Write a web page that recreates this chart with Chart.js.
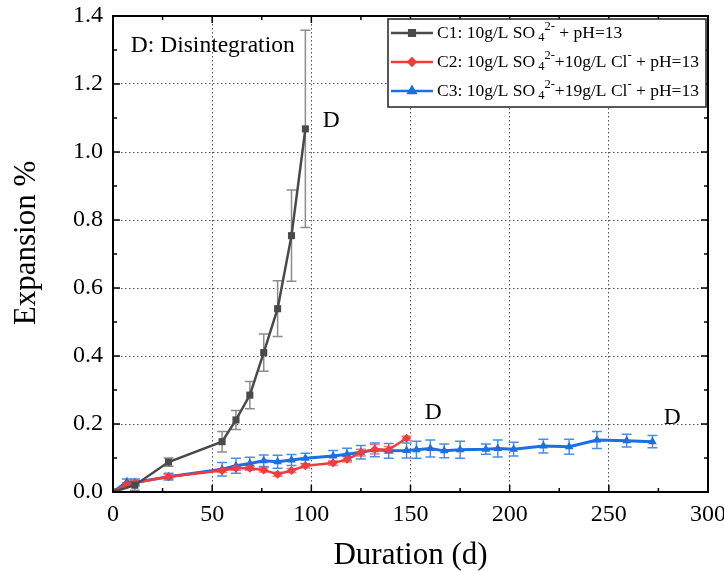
<!DOCTYPE html>
<html>
<head>
<meta charset="utf-8">
<title>Expansion</title>
<script src="https://cdn.jsdelivr.net/npm/chart.js@4"></script>
<style>
    body { margin: 0; background: #fff; }
</style>
</head>
<body>
<canvas id="myChart" width="724" height="571"></canvas>
<script>
// data
const c1Days = [0, 11, 28, 55, 62, 69, 76, 83, 90, 97]
const c1Exp = [0, 0.02, 0.088, 0.148, 0.212, 0.285, 0.41, 0.539, 0.754, 1.068]
const c1Err = [0, 0.015, 0.012, 0.03, 0.028, 0.04, 0.055, 0.082, 0.134, 0.29]

const c2Days = [0, 7, 11, 28, 55, 62, 69, 76, 83, 90, 97, 111, 118, 125, 132, 139, 148]
const c2Exp = [0, 0.022, 0.027, 0.045, 0.063, 0.07, 0.07, 0.065, 0.052, 0.063, 0.077, 0.085, 0.096, 0.116, 0.126, 0.124, 0.158]
const c2Err = [0, 0.005, 0.006, 0.006, 0.006, 0.006, 0.006, 0.006, 0.006, 0.006, 0.006, 0.006, 0.008, 0.01, 0.014, 0.01, 0.006]

const c3Days = [0, 7, 11, 28, 55, 62, 69, 76, 83, 90, 97, 111, 118, 125, 132, 139, 148, 153, 160, 167, 175, 188, 194, 202, 217, 230, 244, 259, 272]
const c3Exp = [0, 0.03, 0.028, 0.045, 0.067, 0.077, 0.084, 0.092, 0.089, 0.094, 0.099, 0.106, 0.111, 0.117, 0.124, 0.121, 0.122, 0.124, 0.128, 0.121, 0.124, 0.126, 0.128, 0.126, 0.135, 0.133, 0.153, 0.151, 0.148]
const c3Err = [0, 0.008, 0.01, 0.01, 0.02, 0.022, 0.018, 0.017, 0.019, 0.016, 0.015, 0.016, 0.018, 0.02, 0.02, 0.022, 0.022, 0.025, 0.025, 0.02, 0.025, 0.015, 0.025, 0.02, 0.02, 0.022, 0.025, 0.019, 0.018]

const seriesNames = [
    'C1: 10g/L SO_{4}^{2-} + pH=13',
    'C2: 10g/L SO_{4}^{2-}+10g/L Cl^{-} + pH=13',
    'C3: 10g/L SO_{4}^{2-}+19g/L Cl^{-} + pH=13'
]

const yTitle = 'Expansion %'
const xTitle = 'Duration (d)'

// text notes: [text, day, expansion]
const notes = [
    ['D: Disintegration', 9, 1.312],
    ['D', 110, 1.091],
    ['D', 161.5, 0.232],
    ['D', 282, 0.218]
]

const serif = "'Liberation Serif', 'Times New Roman', serif"

function pontos(xs, ys) {
    return xs.map((x, i) => ({ x: x, y: ys[i] }))
}

// error bars, drawn through the scales
const errorBars = {
    id: 'errorBars',
    beforeDatasetsDraw(chart) {
        const ctx = chart.ctx
        const xs = chart.scales.x
        const ys = chart.scales.y
        chart.data.datasets.forEach(ds => {
            ctx.save()
            ctx.strokeStyle = ds.errColor
            ctx.lineWidth = 1.5
            ds.data.forEach((p, i) => {
                const e = ds.errors[i]
                if (!e) return
                const px = xs.getPixelForValue(p.x)
                const top = ys.getPixelForValue(p.y + e)
                const bot = ys.getPixelForValue(p.y - e)
                ctx.beginPath()
                ctx.moveTo(px, top); ctx.lineTo(px, bot)
                ctx.moveTo(px - 5, top); ctx.lineTo(px + 5, top)
                ctx.moveTo(px - 5, bot); ctx.lineTo(px + 5, bot)
                ctx.stroke()
            })
            ctx.restore()
        })
    }
}

// frame, inward ticks, notes, y title and the legend box
const moldura = {
    id: 'moldura',
    afterDraw(chart) {
        const ctx = chart.ctx
        const a = chart.chartArea
        const xs = chart.scales.x
        const ys = chart.scales.y
        ctx.save()
        ctx.strokeStyle = '#000'
        ctx.lineWidth = 1.5
        xs.ticks.forEach((t, i) => {
            const px = xs.getPixelForValue(t.value)
            ctx.beginPath()
            ctx.moveTo(px, a.bottom); ctx.lineTo(px, a.bottom - 7)
            ctx.moveTo(px, a.top); ctx.lineTo(px, a.top + 7)
            if (i < xs.ticks.length - 1) {
                const mx = xs.getPixelForValue((t.value + xs.ticks[i + 1].value) / 2)
                ctx.moveTo(mx, a.bottom); ctx.lineTo(mx, a.bottom - 4)
                ctx.moveTo(mx, a.top); ctx.lineTo(mx, a.top + 4)
            }
            ctx.stroke()
        })
        ys.ticks.forEach((t, i) => {
            const py = ys.getPixelForValue(t.value)
            ctx.beginPath()
            ctx.moveTo(a.left, py); ctx.lineTo(a.left + 7, py)
            ctx.moveTo(a.right, py); ctx.lineTo(a.right - 7, py)
            if (i < ys.ticks.length - 1) {
                const my = ys.getPixelForValue((t.value + ys.ticks[i + 1].value) / 2)
                ctx.moveTo(a.left, my); ctx.lineTo(a.left + 4, my)
                ctx.moveTo(a.right, my); ctx.lineTo(a.right - 4, my)
            }
            ctx.stroke()
        })
        ctx.lineWidth = 2
        ctx.strokeRect(a.left, a.top, a.right - a.left, a.bottom - a.top)

        // notes
        ctx.fillStyle = '#000'
        ctx.textBaseline = 'middle'
        notes.forEach(n => {
            const px = xs.getPixelForValue(n[1])
            const py = ys.getPixelForValue(n[2])
            ctx.font = '23.5px ' + serif
            ctx.textAlign = n[0].length > 1 ? 'left' : 'center'
            ctx.fillText(n[0], px, py)
        })

        // y title (sits a bit above the middle in the original)
        ctx.save()
        ctx.translate(27, 243)
        ctx.rotate(-Math.PI / 2)
        ctx.textAlign = 'center'
        ctx.font = '31px ' + serif
        ctx.fillText(yTitle, 0, 0)
        ctx.restore()

        // legend
        const bx = 388, by = 19, bw = 318, bh = 88
        ctx.fillStyle = '#fff'
        ctx.fillRect(bx, by, bw, bh)
        ctx.lineWidth = 1.5
        ctx.strokeStyle = '#222'
        ctx.strokeRect(bx, by, bw, bh)
        chart.data.datasets.forEach((ds, i) => {
            const y = 33 + i * 29
            ctx.strokeStyle = ds.borderColor
            ctx.lineWidth = 2.5
            ctx.beginPath()
            ctx.moveTo(391, y); ctx.lineTo(433, y)
            ctx.stroke()
            ctx.fillStyle = ds.borderColor
            Chart.helpers.drawPoint(ctx, {
                pointStyle: ds.pointStyle, radius: ds.pointRadius - 1, borderWidth: 1
            }, 412, y)
            ctx.fill()
            textoRico(ctx, seriesNames[i], 437, y)
        })
        ctx.restore()
    }
}

// draws 'SO_{4}^{2-}' style text
function textoRico(ctx, s, x, y) {
    const partes = s.split(/(_\{[^}]*\}|\^\{[^}]*\})/)
    ctx.fillStyle = '#000'
    ctx.textAlign = 'left'
    ctx.textBaseline = 'middle'
    partes.forEach(p => {
        if (!p) return
        if (p[0] === '_') {
            ctx.font = '12.5px ' + serif
            x += 3
            ctx.fillText(p.slice(2, -1), x, y + 5)
            x += ctx.measureText(p.slice(2, -1)).width
        } else if (p[0] === '^') {
            ctx.font = '12.5px ' + serif
            ctx.fillText(p.slice(2, -1), x, y - 6)
            x += ctx.measureText(p.slice(2, -1)).width
        } else {
            ctx.font = '17.5px ' + serif
            ctx.fillText(p, x, y)
            x += ctx.measureText(p).width
        }
    })
}

const ctx = document.getElementById('myChart')
new Chart(ctx, {
    type: 'line',
    data: {
        datasets: [{
            label: 'C1',
            data: pontos(c1Days, c1Exp),
            errors: c1Err,
            errColor: '#8c8c8c',
            borderColor: '#4a4a4a',
            backgroundColor: '#4a4a4a',
            borderWidth: 2.5,
            pointStyle: 'rect',
            pointRadius: 5,
            pointBorderWidth: 0
        }, {
            label: 'C2',
            data: pontos(c2Days, c2Exp),
            errors: c2Err,
            errColor: '#f27a7a',
            borderColor: '#f03c3c',
            backgroundColor: '#f03c3c',
            borderWidth: 2.5,
            pointStyle: 'rectRot',
            pointRadius: 4.5,
            pointBorderWidth: 0
        }, {
            label: 'C3',
            data: pontos(c3Days, c3Exp),
            errors: c3Err,
            errColor: '#4a8ee8',
            borderColor: '#1d6ee0',
            backgroundColor: '#1d6ee0',
            borderWidth: 3,
            pointStyle: 'triangle',
            pointRadius: 5,
            pointBorderWidth: 0
        }]
    },
    options: {
        responsive: false,
        animation: false,
        layout: { padding: { top: 16, right: 16, left: 0, bottom: 0 } },
        plugins: {
            legend: { display: false },
            tooltip: { enabled: false }
        },
        scales: {
            x: {
                type: 'linear',
                min: 0,
                max: 300,
                afterFit: s => {
                    s.height = 79
                    s.paddingLeft = 0
                    s.paddingRight = 0
                },
                ticks: {
                    stepSize: 50,
                    color: '#000',
                    padding: 8,
                    font: { family: serif, size: 24 }
                },
                grid: { color: '#555', lineWidth: 1, drawTicks: false },
                border: { display: false, dash: [1.5, 2.5] },
                title: {
                    display: true,
                    text: xTitle,
                    color: '#000',
                    padding: { bottom: -3 },
                    font: { family: serif, size: 31 }
                }
            },
            y: {
                min: 0,
                max: 1.4,
                afterFit: s => {
                    s.width = 113
                    s.paddingTop = 0
                    s.paddingBottom = 0
                },
                ticks: {
                    stepSize: 0.2,
                    color: '#000',
                    padding: 10,
                    font: { family: serif, size: 24 },
                    callback: v => v.toFixed(1)
                },
                grid: { color: '#555', lineWidth: 1, drawTicks: false },
                border: { display: false, dash: [1.5, 2.5] }
            }
        }
    },
    plugins: [errorBars, moldura]
});
</script>
</body>
</html>
